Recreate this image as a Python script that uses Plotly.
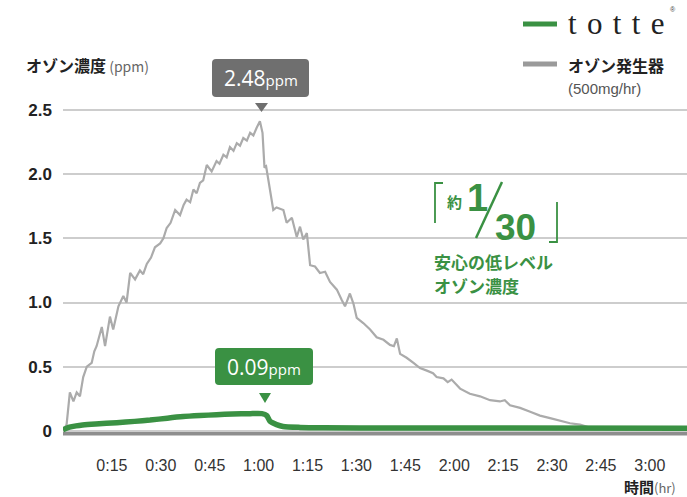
import plotly.graph_objects as go

# ---------------- data (minutes, ppm) ----------------
gray_t = [0, 1.1, 2.1, 3.2, 4.2, 5.2, 6.2, 7.3, 8.8, 9.6, 10.3, 11.9, 12.9, 14.4, 15.4, 17.0, 18.5, 19.5,
          20.6, 22.1, 23.6, 24.6, 25.7, 27.0, 28.2, 29.8, 30.8, 31.8, 33.0, 34.4, 35.9, 37.0, 37.9, 39.0,
          40.0, 41.0, 42.0, 43.0, 44.1, 45.6, 47.1, 48.0, 49.2, 50.2, 51.2, 52.3, 53.3, 54.3, 55.3, 56.4,
          57.4, 58.4, 59.4, 60.4, 61.2, 61.8, 62.3, 63.0, 63.5, 64.5, 65.5, 66.6, 67.6, 68.6, 70.2, 71.7,
          72.7, 73.7, 74.8, 75.8, 77.3, 78.8, 80.4, 81.9, 84.0, 85.5, 86.5, 88.0, 89.1, 90.1, 92.1, 94.2,
          96.2, 98.3, 100.3, 101.5, 102.4, 103.4, 105.4, 107.5, 109.5, 111.6, 113.5, 114.6, 116.7, 118.0,
          119.2, 121.8, 124.8, 127.9, 131.0, 134.0, 135.5, 137.1, 140.2, 143.3, 146.3, 149.4, 152.5, 155.5,
          158.6, 161.0, 165.0, 191.4]
gray_v = [0.0, 0.05, 0.30, 0.23, 0.30, 0.27, 0.42, 0.50, 0.53, 0.62, 0.66, 0.81, 0.66, 0.89, 0.79, 0.97, 1.05, 1.00,
          1.23, 1.18, 1.25, 1.22, 1.30, 1.35, 1.43, 1.46, 1.50, 1.58, 1.62, 1.72, 1.68, 1.76, 1.80, 1.78,
          1.88, 1.85, 1.93, 1.95, 2.07, 2.02, 2.10, 2.08, 2.15, 2.13, 2.21, 2.18, 2.24, 2.22, 2.28, 2.26,
          2.32, 2.30, 2.36, 2.41, 2.32, 2.05, 2.06, 1.95, 1.86, 1.72, 1.74, 1.73, 1.72, 1.62, 1.66, 1.51,
          1.59, 1.49, 1.54, 1.29, 1.28, 1.23, 1.24, 1.16, 1.10, 1.02, 0.97, 1.07, 0.99, 0.88, 0.84, 0.79,
          0.73, 0.71, 0.67, 0.66, 0.72, 0.60, 0.57, 0.53, 0.49, 0.47, 0.45, 0.42, 0.41, 0.38,
          0.40, 0.33, 0.29, 0.27, 0.24, 0.23, 0.24, 0.20, 0.18, 0.15, 0.12, 0.10, 0.08, 0.06,
          0.05, 0.03, 0.02, 0.015]

green_t = [0, 2, 4, 6, 10, 16.5, 22, 26.7, 32, 36.9, 42, 47.1, 52, 57.4, 61, 62.5, 63.5, 65.5, 67.5,
           72.7, 80, 100, 191.4]
green_v = [0.01, 0.03, 0.04, 0.047, 0.055, 0.065, 0.075, 0.085, 0.10, 0.112, 0.12, 0.127, 0.132, 0.135,
           0.135, 0.12, 0.075, 0.05, 0.035, 0.028, 0.025, 0.023, 0.022]

x_tickvals = [15, 30, 45, 60, 75, 90, 105, 120, 135, 150, 165, 180]
x_ticktext = ["0:15", "0:30", "0:45", "1:00", "1:15", "1:30", "1:45", "2:00", "2:15", "2:30", "2:45", "3:00"]
y_tickvals = [0, 0.5, 1.0, 1.5, 2.0, 2.5]
y_ticktext = ["0", "0.5", "1.0", "1.5", "2.0", "2.5"]

GREEN = "#3a9143"
GRAY_LINE = "#ababab"
FONT = "Liberation Sans, Noto Sans CJK JP, sans-serif"
JP = "Noto Sans CJK JP, Liberation Sans, sans-serif"

# ---------------- pixel -> paper helpers ----------------
L, T, W, H = 63, 50, 624, 390


def PX(x):
    return (x - L) / W


def PY(y):
    return (T + H - y) / H


def path(points, close=True):
    s = "M " + " L ".join(f"{PX(x):.5f},{PY(y):.5f}" for x, y in points)
    return s + (" Z" if close else "")


def rrect(x0, y0, x1, y1, r):
    def p(x, y):
        return f"{PX(x):.5f},{PY(y):.5f}"
    return (f"M {p(x0 + r, y0)} L {p(x1 - r, y0)} Q {p(x1, y0)} {p(x1, y0 + r)} "
            f"L {p(x1, y1 - r)} Q {p(x1, y1)} {p(x1 - r, y1)} L {p(x0 + r, y1)} "
            f"Q {p(x0, y1)} {p(x0, y1 - r)} L {p(x0, y0 + r)} Q {p(x0, y0)} {p(x0 + r, y0)} Z")


fig = go.Figure()
fig.add_trace(go.Scatter(x=gray_t, y=gray_v, mode="lines",
                         line=dict(color=GRAY_LINE, width=2.2), hoverinfo="skip"))
fig.add_trace(go.Scatter(x=green_t, y=green_v, mode="lines",
                         line=dict(color=GREEN, width=5.5, shape="spline", smoothing=0.6), hoverinfo="skip"))

shapes = []
# baseline
shapes.append(dict(type="line", xref="x", yref="y", x0=0, x1=191.4, y0=-0.017, y1=-0.017,
                   line=dict(color="#8e8e8e", width=4.5), layer="below"))
# legend lines
shapes.append(dict(type="line", xref="paper", yref="paper", x0=PX(523), x1=PX(557), y0=PY(24), y1=PY(24),
                   line=dict(color=GREEN, width=5)))
shapes.append(dict(type="line", xref="paper", yref="paper", x0=PX(523), x1=PX(557), y0=PY(64), y1=PY(64),
                   line=dict(color="#9a9a9a", width=5)))
# callout boxes
shapes.append(dict(type="path", xref="paper", yref="paper", path=rrect(212, 59, 309, 97, 4),
                   fillcolor="#6f6f6f", line=dict(width=0)))
shapes.append(dict(type="path", xref="paper", yref="paper", path=path([(255, 103), (268, 103), (261.5, 112)]),
                   fillcolor="#6f6f6f", line=dict(width=0)))
shapes.append(dict(type="path", xref="paper", yref="paper", path=rrect(215, 348, 313, 385, 4),
                   fillcolor=GREEN, line=dict(width=0)))
shapes.append(dict(type="path", xref="paper", yref="paper", path=path([(259, 393), (271, 393), (265, 403)]),
                   fillcolor=GREEN, line=dict(width=0)))
# 「約1/30」 brackets and slash
shapes.append(dict(type="path", xref="paper", yref="paper", path=path([(443, 183), (435, 183), (435, 223)], close=False),
                   line=dict(color=GREEN, width=1.8)))
shapes.append(dict(type="path", xref="paper", yref="paper", path=path([(557, 202), (557, 242), (549, 242)], close=False),
                   line=dict(color=GREEN, width=1.8)))
shapes.append(dict(type="line", xref="paper", yref="paper", x0=PX(476), y0=PY(238), x1=PX(502), y1=PY(182),
                   line=dict(color=GREEN, width=2.5)))

ann = []


def text(x, y, t, size, color, family=FONT, xanchor="left", yanchor="middle", weight="normal"):
    ann.append(dict(x=PX(x), y=PY(y), xref="paper", yref="paper", text=t, showarrow=False,
                    xanchor=xanchor, yanchor=yanchor,
                    font=dict(size=size, color=color, family=family, weight=weight)))


text(24, 65, "<b>オゾン濃度</b><span style='font-size:14px;color:#666666'> (ppm)</span>", 16, "#222222", JP)
text(622, 486, "<b>時間</b><span style='font-size:13px;color:#666666'>(hr)</span>", 15, "#222222", JP)
text(566, 23, "t \u200ao \u200at \u200at \u200ae", 31, "#222222", "Liberation Serif, serif")
text(668, 10, "®", 7, "#444444")
text(566, 65, "<b>オゾン発生器</b>", 16, "#222222", JP)
text(566, 88, "(500mg/hr)", 15, "#555555")
text(261, 78, "2.48<span style='font-size:15px'>ppm</span>", 21, "#ffffff",
     "Open Sans, Liberation Sans, sans-serif", "center", weight=500)
text(264, 367, "0.09<span style='font-size:15px'>ppm</span>", 21, "#ffffff",
     "Open Sans, Liberation Sans, sans-serif", "center", weight=500)
text(445, 202, "<b>約</b>", 15, GREEN, JP)
text(465, 198, "<b>1</b>", 38, GREEN)
text(493, 227, "<b>30</b>", 37, GREEN)
text(432, 261, "<b>安心の低レベル</b>", 17, GREEN, JP)
text(432, 285, "<b>オゾン濃度</b>", 17, GREEN, JP)

fig.update_layout(
    width=687, height=497,
    margin=dict(l=L, r=0, t=T, b=497 - T - H),
    paper_bgcolor="white", plot_bgcolor="white",
    showlegend=False,
    font=dict(family=FONT, color="#222222"),
    shapes=shapes, annotations=ann,
    xaxis=dict(range=[0, 191.4], tickvals=x_tickvals, ticktext=x_ticktext, showgrid=False,
               zeroline=False, showline=False, ticks="", ticklabelstandoff=14,
               tickfont=dict(size=16, color="#333333", family=FONT), fixedrange=True),
    yaxis=dict(range=[-0.07, 2.965], tickvals=y_tickvals, ticktext=y_ticktext, showgrid=True,
               gridcolor="#cdcdcd", gridwidth=1.5, zeroline=False, showline=False, ticks="",
               ticklabelstandoff=10, tickfont=dict(size=17, color="#222222", family="Liberation Sans, sans-serif",
                                                  weight="bold"),
               fixedrange=True),
)

fig.write_html("out.html", config={"displayModeBar": False},
               post_script="document.body.style.margin='0px';document.body.style.overflow='hidden';")
